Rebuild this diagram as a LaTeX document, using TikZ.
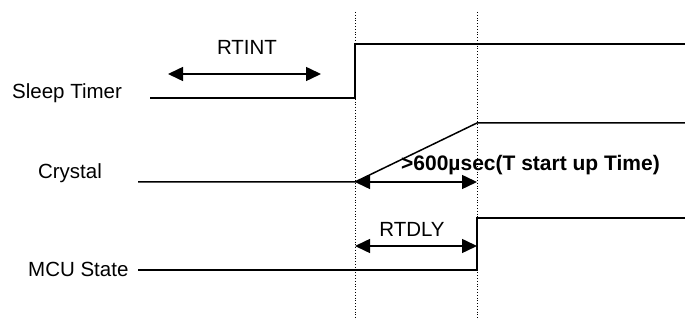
\documentclass[tikz,border=0pt]{standalone}
\usepackage{fontspec}
\setmainfont{Liberation Sans}
\usetikzlibrary{arrows.meta}
\tikzset{
  sig/.style={line width=1.5pt},
  span/.style={line width=1.5pt,{Triangle[length=15pt,width=14pt]}-{Triangle[length=15pt,width=14pt]}},
  mark line/.style={dotted,line width=0.8pt},
  lbl/.style={inner sep=0pt,font=\fontsize{20.5}{24}\selectfont}
}
\begin{document}
\begin{tikzpicture}[x=1pt,y=-1pt]
      \useasboundingbox (0,0) rectangle (685,320);
      % time marks
      \draw[mark line] (355,12) -- (355,320);
      \draw[mark line] (477,12) -- (477,320);
      % signal names
      \node[lbl,anchor=west] (sleep) at (12,93) {Sleep Timer};
      \node[lbl] (xtal) at (70,173) {Crystal};
      \node[lbl,anchor=west] (mcu) at (28,269) {MCU State};
      % waveforms
      \draw[sig] (150,98) -- (355,98) -- (355,44) -- (685,44);
      \draw[sig] (138,182) -- (355,182) -- (477,123) -- (685,123);
      \draw[sig] (138,270) -- (477,270) -- (477,218) -- (685,218);
      % intervals
      \coordinate (rtA) at (168,74);
      \coordinate (rtB) at (321,74);
      \draw[span] (rtA) -- (rtB);
      \node[lbl] (rtint) at (247,47) {RTINT};
      \coordinate (suA) at (355,182);
      \coordinate (suB) at (477,182);
      \draw[span] (suA) -- (suB);
      \node[lbl,anchor=west,font=\fontsize{21}{24}\selectfont\bfseries] (tsu) at (401,165) {>600µsec(T start up Time)};
      \coordinate (dlA) at (355,246);
      \coordinate (dlB) at (477,246);
      \draw[span] (dlA) -- (dlB);
      \node[lbl] (rtdly) at (412,229) {RTDLY};
\end{tikzpicture}
\end{document}
